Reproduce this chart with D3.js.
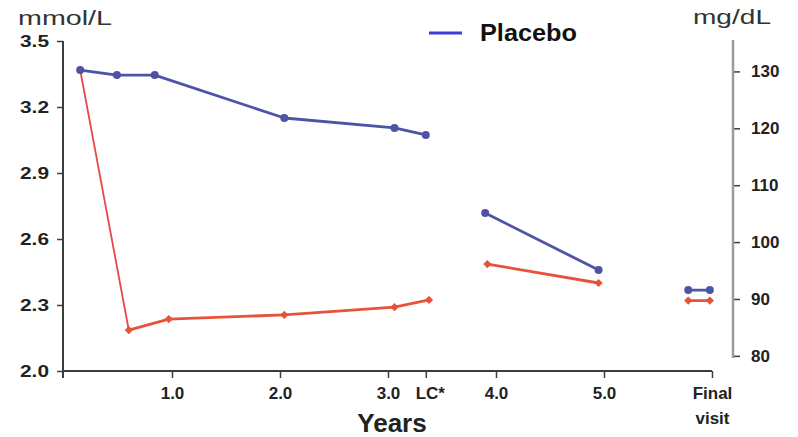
<!DOCTYPE html>
<html>
<head>
<meta charset="utf-8">
<script src="https://cdn.jsdelivr.net/npm/d3@7"></script>
<style>
  body { margin: 0; background: #fff; }
  svg { display: block; font-family: "Liberation Sans", Arial, sans-serif; }
</style>
</head>
<body>
<svg id="chart" width="798" height="437"></svg>
<script>
// x positions are in years; LC* and the final visit sit on their own ticks
const tickYears = [1, 2, 3, 3.35, 4, 5, 6]
const tickLabels = ["1.0", "2.0", "3.0", "LC*", "4.0", "5.0", "Final"]
const mmolTicks = [2.0, 2.3, 2.6, 2.9, 3.2, 3.5]
const mgTicks = [80, 90, 100, 110, 120, 130]
const MG_PER_MMOL = 38.67

// placebo, mmol/L
const placeboYears = [0.15, 0.49, 0.84, 2.04, 3.06, 3.35]
const placeboValues = [3.368, 3.345, 3.345, 3.15, 3.105, 3.073]
const placeboLateYears = [3.9, 4.95]
const placeboLateValues = [2.718, 2.459]
const placeboFinalYears = [5.78, 5.98]
const placeboFinalValues = [2.368, 2.368]

// active treatment, mmol/L
const activeYears = [0.15, 0.6, 0.97, 2.04, 3.06, 3.38]
const activeValues = [3.368, 2.186, 2.236, 2.255, 2.29, 2.323]
const activeLateYears = [3.92, 4.95]
const activeLateValues = [2.486, 2.4]
const activeFinalYears = [5.78, 5.98]
const activeFinalValues = [2.32, 2.32]

const BLUE = "#4d54a6"
const RED = "#e6533a"
const AXIS = "#3d3d3d"

const svg = d3.select("#chart")

const x = d3.scaleLinear().domain([0, 6]).range([64, 712])
const y = d3.scaleLinear().domain([2.0, 3.5]).range([371, 41])
const y2 = d3.scaleLinear().domain([2.0 * MG_PER_MMOL, 3.5 * MG_PER_MMOL]).range([371, 41])

/* left axis */
const left = svg.append("g").attr("transform", "translate(63,0)")
    .call(d3.axisLeft(y).tickValues(mmolTicks).tickFormat(d3.format(".1f")).tickSize(6).tickPadding(8))
left.select(".domain").remove()
left.append("line").attr("y1", 41).attr("y2", 378).attr("stroke", AXIS).attr("stroke-width", 2)
left.selectAll(".tick line").attr("stroke", AXIS).attr("stroke-width", 1.5)
left.selectAll(".tick text")
    .attr("fill", "#222").attr("font-size", 17).attr("font-weight", "bold")
    .attr("textLength", 29).attr("lengthAdjust", "spacingAndGlyphs")

/* bottom axis */
const bottom = svg.append("g").attr("transform", "translate(0,371)")
    .call(d3.axisBottom(x).tickValues(tickYears).tickFormat((d, i) => tickLabels[i]).tickSize(7).tickPadding(9))
bottom.select(".domain").remove()
bottom.append("line").attr("x1", 63).attr("x2", 712).attr("stroke", AXIS).attr("stroke-width", 2)
bottom.selectAll(".tick line").attr("stroke", AXIS).attr("stroke-width", 1.5)
bottom.selectAll(".tick text")
    .attr("fill", "#222").attr("font-size", 17).attr("font-weight", "bold")
    .attr("dx", (d, i) => tickLabels[i] === "LC*" ? 4 : 0)
bottom.selectAll(".tick").filter(d => d === 6).select("text")
    .append("tspan").attr("x", 0).attr("dy", "1.45em").text("visit")

svg.append("text").attr("x", 392).attr("y", 432).attr("text-anchor", "middle")
    .attr("font-size", 26).attr("font-weight", "bold").attr("fill", "#222").text("Years")

/* right axis, mg/dL */
const right = svg.append("g").attr("transform", "translate(733,0)")
    .call(d3.axisRight(y2).tickValues(mgTicks).tickSize(7).tickPadding(11))
right.select(".domain").remove()
right.append("line").attr("y1", 40).attr("y2", 358).attr("stroke", "#9a9a9a").attr("stroke-width", 2.5)
right.selectAll(".tick line").attr("stroke", AXIS).attr("stroke-width", 1.5)
right.selectAll(".tick text")
    .attr("fill", "#222").attr("font-size", 17).attr("font-weight", "bold")

/* unit labels */
svg.append("text").attr("x", 18).attr("y", 25).attr("font-size", 21).attr("fill", "#333")
    .attr("textLength", 94).attr("lengthAdjust", "spacingAndGlyphs").text("mmol/L")
svg.append("text").attr("x", 693).attr("y", 24).attr("font-size", 21).attr("fill", "#333")
    .attr("textLength", 78).attr("lengthAdjust", "spacingAndGlyphs").text("mg/dL")

/* legend */
svg.append("line").attr("x1", 429).attr("x2", 462).attr("y1", 33).attr("y2", 33)
    .attr("stroke", "#3c3cd6").attr("stroke-width", 3)
svg.append("text").attr("x", 480).attr("y", 41).attr("font-size", 23).attr("font-weight", "bold")
    .attr("fill", "#111").attr("textLength", 97).attr("lengthAdjust", "spacingAndGlyphs").text("Placebo")

/* series */
function drawSeries(years, values, color, shape, firstWidth) {
    const pts = years.map((t, i) => [x(t), y(values[i])])
    const g = svg.append("g")
    d3.pairs(pts).forEach((p, i) => {
        g.append("path")
            .attr("d", d3.line()(p))
            .attr("fill", "none")
            .attr("stroke", i === 0 && firstWidth ? "#e8474a" : color)
            .attr("stroke-width", i === 0 && firstWidth ? firstWidth : 2.8)
            .attr("stroke-linecap", "round")
    })
    g.selectAll("path.mark").data(pts).join("path")
        .attr("class", "mark")
        .attr("transform", d => `translate(${d[0]},${d[1]})${shape === "diamond" ? " scale(1.4,0.8)" : ""}`)
        .attr("d", d3.symbol().type(shape === "diamond" ? d3.symbolDiamond : d3.symbolCircle).size(shape === "diamond" ? 30 : 50))
        .attr("fill", color)
}

drawSeries(activeYears, activeValues, RED, "diamond", 1.8)
drawSeries(activeLateYears, activeLateValues, RED, "diamond")
drawSeries(activeFinalYears, activeFinalValues, RED, "diamond")
drawSeries(placeboYears, placeboValues, BLUE, "circle")
drawSeries(placeboLateYears, placeboLateValues, BLUE, "circle")
drawSeries(placeboFinalYears, placeboFinalValues, BLUE, "circle")
</script>
</body>
</html>
